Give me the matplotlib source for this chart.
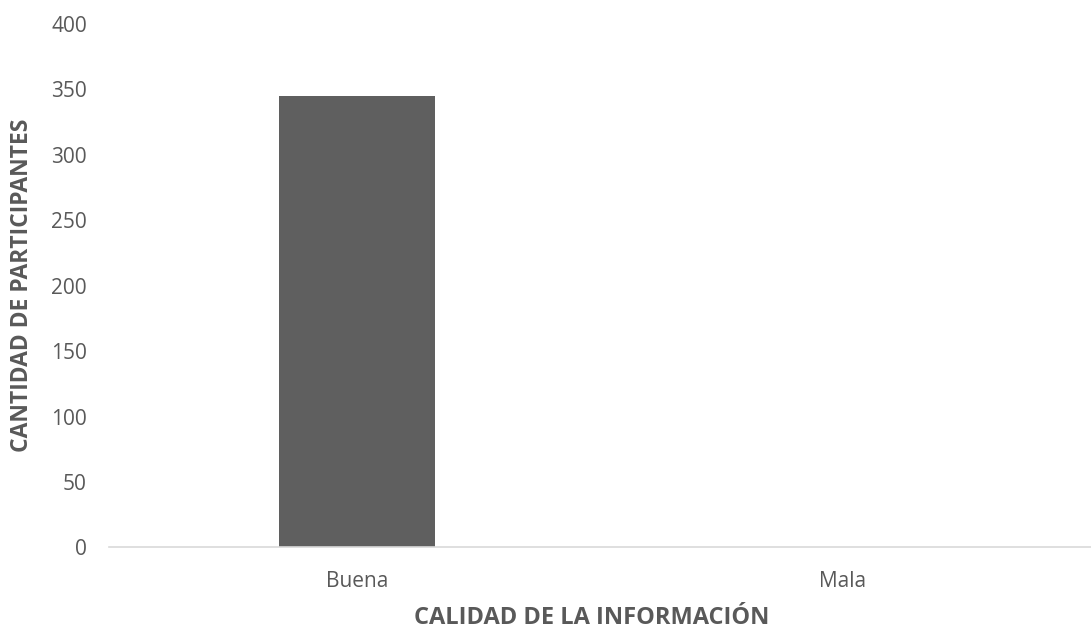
import matplotlib as mpl
mpl.use('Agg')
import matplotlib.pyplot as plt

categorias = ['Buena', 'Mala']
participantes = [345, 0]
yticks = [0, 50, 100, 150, 200, 250, 300, 350, 400]

plt.rcParams['font.family'] = ['Open Sans', 'DejaVu Sans']
gris = '#595959'

fig = plt.figure(figsize=(10.91, 6.29), dpi=100)
# axis line runs to the right edge of the figure
ax = fig.add_axes([0.0999, 0.1296, 0.9001, 0.8322])

ax.bar(range(len(categorias)), participantes, width=0.32, color='#5f5f5f')

ax.set_xlim(-0.511, 1.513)
ax.set_ylim(0, 400)
ax.set_yticks(yticks)
ax.set_xticks(range(len(categorias)))
ax.set_xticklabels(categorias)
ax.tick_params(axis='both', length=0, labelsize=15, colors=gris)
ax.tick_params(axis='x', pad=17)
ax.tick_params(axis='y', pad=16)

for side in ['top', 'right', 'left']:
    ax.spines[side].set_visible(False)
ax.spines['bottom'].set_color('#d9d9d9')
ax.spines['bottom'].set_linewidth(1.2)

fig.text(0.542, 0.017, 'CALIDAD DE LA INFORMACIÓN', ha='center', va='center',
         fontsize=17, fontweight='bold', color=gris)
fig.text(0.020, 0.547, 'CANTIDAD DE PARTICIPANTES', ha='center', va='center',
         rotation=90, fontsize=16.5, fontweight='bold', color=gris)

plt.savefig('out.png', dpi=100)
